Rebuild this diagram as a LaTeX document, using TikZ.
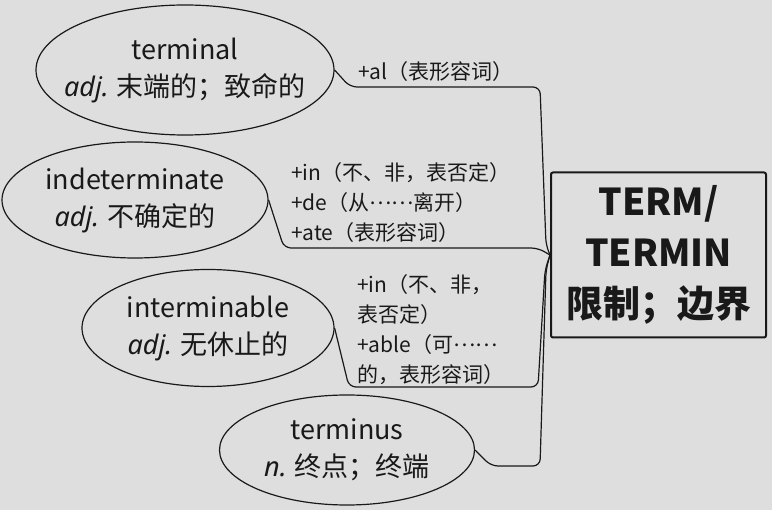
\documentclass[tikz,border=0pt]{standalone}
\usepackage{fontspec}
\setmainfont{Noto Sans CJK SC}[BoldFont={Noto Sans CJK SC Black}]
\newfontfamily\latin{Noto Sans}
\newcommand{\cndots}{\raisebox{0.32em}{……}}
\usetikzlibrary{shapes.geometric,positioning}
\definecolor{paper}{RGB}{222,222,222}
\definecolor{ink}{RGB}{25,25,25}

\begin{document}
\begin{tikzpicture}[
    x=1pt, y=-1pt,
    word/.style={ellipse, draw=ink, line width=1.2pt, inner xsep=-17pt, inner ysep=0pt,
        align=center, text=ink, font=\fontsize{27}{37}\selectfont},
    affix/.style={inner sep=0pt, align=left, text=ink, font=\fontsize{21}{30}\selectfont},
    rootbox/.style={rectangle, draw=ink, line width=2pt, rounded corners=2pt, align=center,
        text=ink, font=\fontsize{37}{51}\selectfont\bfseries},
    link/.style={draw=ink, line width=1.2pt, rounded corners=7pt}
]
    \fill[paper] (0,0) rectangle (772,510);
    \useasboundingbox (0,0) rectangle (772,510);

    % Root
    \node[rootbox, minimum width=215pt, minimum height=165pt] (root) at (658.5,255)
        {TERM/\\TERMIN\\限制；边界};

    % Words
    \node[word, minimum width=298pt, minimum height=130pt] (terminal) at (185,70)
        {terminal\\{\latin\itshape adj.} 末端的；致命的};
    \node[word, minimum width=266pt, minimum height=116pt] (indet) at (135,200)
        {indeterminate\\{\latin\itshape adj.} 不确定的};
    \node[word, minimum width=252pt, minimum height=117pt] (intermin) at (208,328)
        {interminable\\{\latin\itshape adj.} 无休止的};
    \node[word, minimum width=255pt, minimum height=110pt] (terminus) at (347,450)
        {terminus\\{\latin\itshape n.} 终点；终端};

    % Affixes
    \node[affix, anchor=west] (al) at (358,72) {+al（表形容词）};
    \node[affix, anchor=west] (inde) at (291,203)
        {+in（不、非，表否定）\\+de（从\cndots 离开）\\+ate（表形容词）};
    \node[affix, anchor=west] (inable) at (357,330)
        {+in（不、非，\\表否定）\\+able（可\cndots\\的，表形容词）};

    % Links
    \coordinate (hub) at (root.west);
    \draw[link] (terminal.east) -- (350,87) -- (540,87) -- (546,245) -- (hub);
    \draw[link] (indet.east) -- (284,248) -- (538,248) -- (hub);
    \draw[link] (intermin.east) -- (349,387) -- (538,387) -- (545,270) -- (hub);
    \draw[link] (terminus.east) -- (491,466) -- (540,466) -- (546,270) -- (hub);
\end{tikzpicture}
\end{document}
